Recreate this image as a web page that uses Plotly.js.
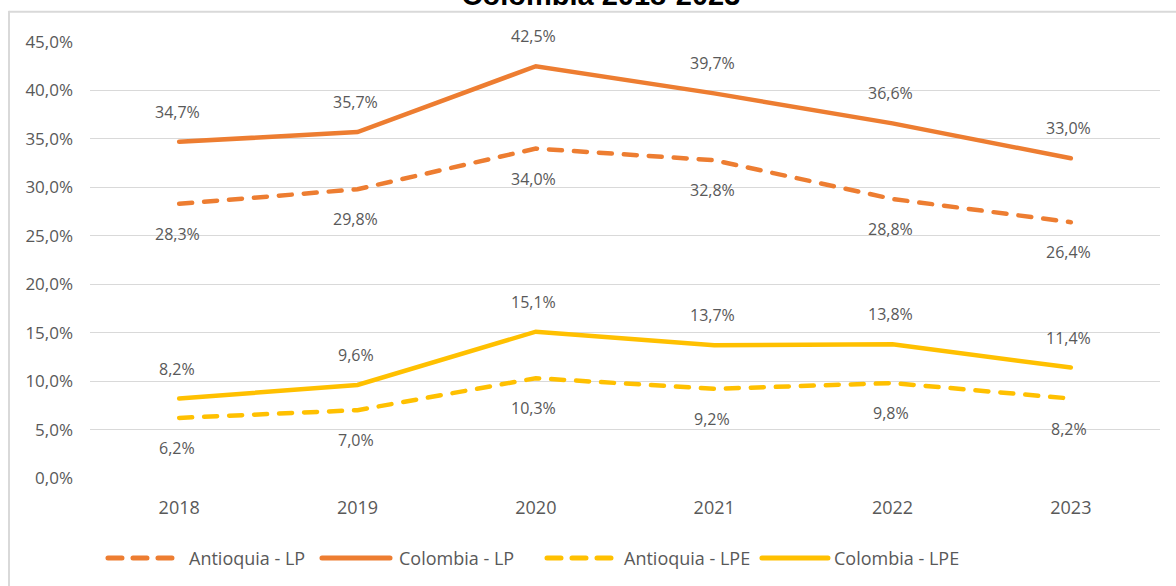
<!DOCTYPE html>
<html>
<head>
<meta charset="utf-8">
<script src="https://cdn.plot.ly/plotly-3.0.1.min.js"></script>
<style>
html, body { margin: 0; padding: 0; background: #ffffff; }
#chart { width: 1176px; height: 586px; }
.js-line, .shapelayer path { stroke-linecap: round !important; }
</style>
</head>
<body>
<div id="chart"></div>
<script>
const years = ["2018", "2019", "2020", "2021", "2022", "2023"];
const antioquiaLP = [28.3, 29.8, 34.0, 32.8, 28.8, 26.4];
const colombiaLP = [34.7, 35.7, 42.5, 39.7, 36.6, 33.0];
const antioquiaLPE = [6.2, 7.0, 10.3, 9.2, 9.8, 8.2];
const colombiaLPE = [8.2, 9.6, 15.1, 13.7, 13.8, 11.4];
const seriesNames = ["Antioquia - LP", "Colombia - LP", "Antioquia - LPE", "Colombia - LPE"];
const titleText = "Colombia 2018-2023";

const ORANGE = "#ED7D31";
const YELLOW = "#FFC000";
const GRAY = "#595959";
const DASH = "13px,12px";

function fmt(v) { return v.toFixed(1).replace(".", ",") + "%"; }

const series = [
  { name: seriesNames[0], y: antioquiaLP, color: ORANGE, dash: DASH, shift: -30 },
  { name: seriesNames[1], y: colombiaLP, color: ORANGE, dash: "solid", shift: 30 },
  { name: seriesNames[2], y: antioquiaLPE, color: YELLOW, dash: DASH, shift: -30 },
  { name: seriesNames[3], y: colombiaLPE, color: YELLOW, dash: "solid", shift: 30 }
];

const traces = series.map(s => ({
  type: "scatter",
  mode: "lines",
  name: s.name,
  x: years,
  y: s.y,
  line: { color: s.color, width: 4.5, dash: s.dash },
  hoverinfo: "x+y+name",
  showlegend: false
}));

const annotations = [];
series.forEach(s => {
  s.y.forEach((v, i) => {
    annotations.push({
      x: i, y: v, xref: "x", yref: "y",
      text: fmt(v), showarrow: false,
      yshift: s.shift, xshift: -2,
      font: { family: "Open Sans", size: 16, color: GRAY }
    });
  });
});

// Manual legend (wide line samples as in the reference)
const legendY = -0.1834;
const legendItems = [
  { x0: 0.0168, x1: 0.0785, tx: 0.0907 },
  { x0: 0.2168, x1: 0.2804, tx: 0.2869 },
  { x0: 0.4271, x1: 0.4888, tx: 0.4972 },
  { x0: 0.6280, x1: 0.6897, tx: 0.6935 }
];
const legendShapes = [];
series.forEach((s, k) => {
  const it = legendItems[k];
  legendShapes.push({
    type: "line", xref: "paper", yref: "paper",
    x0: it.x0, x1: it.x1, y0: legendY, y1: legendY,
    line: { color: s.color, width: 5, dash: s.dash === "solid" ? "solid" : "14px,11px" }
  });
  annotations.push({
    xref: "paper", yref: "paper", x: it.tx, y: legendY,
    xanchor: "left", yanchor: "middle", showarrow: false,
    text: s.name,
    font: { family: "Open Sans", size: 18, color: GRAY }
  });
});

const layout = {
  width: 1176,
  height: 586,
  margin: { l: 90, r: 16, t: 42, b: 108 },
  paper_bgcolor: "#ffffff",
  plot_bgcolor: "#ffffff",
  separators: ",.",
  title: {
    text: "<b>" + titleText + "</b>",
    font: { family: "Liberation Sans", size: 29, color: "#000000" },
    x: 0.511, xanchor: "center", xref: "container",
    y: 0.992, yanchor: "bottom", yref: "container"
  },
  xaxis: {
    type: "category",
    range: [-0.5, 5.5],
    showgrid: false,
    zeroline: false,
    showline: false,
    ticks: "",
    ticklabelstandoff: 17,
    tickfont: { family: "Open Sans", size: 18, color: GRAY }
  },
  yaxis: {
    range: [0, 45],
    dtick: 5,
    tick0: 0,
    tickformat: ".1f",
    ticksuffix: "%",
    showgrid: true,
    gridcolor: "#d9d9d9",
    gridwidth: 1,
    zeroline: false,
    showline: false,
    ticks: "",
    ticklabelstandoff: 16,
    tickfont: { family: "Open Sans", size: 17, color: GRAY }
  },
  showlegend: false,
  shapes: [
    { type: "line", xref: "paper", yref: "paper", x0: -0.0757, x1: 1.02, y0: 1.0692, y1: 1.0692,
      line: { color: "#d9d9d9", width: 2 } },
    { type: "line", xref: "paper", yref: "paper", x0: -0.0757, x1: -0.0757, y0: 1.0692, y1: -0.26,
      line: { color: "#d9d9d9", width: 2 } }
  ].concat(legendShapes),
  annotations: annotations
};

Plotly.newPlot("chart", traces, layout, { displayModeBar: false, responsive: false }).then(gd => {
  gd.querySelectorAll(".js-line, .shapelayer path").forEach(p => { p.style.strokeLinecap = "round"; });
});
</script>
</body>
</html>
